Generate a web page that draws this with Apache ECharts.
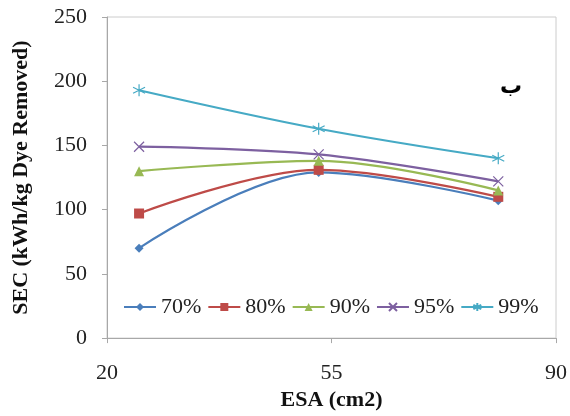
<!DOCTYPE html>
<html>
<head>
<meta charset="utf-8">
<script src="https://cdn.jsdelivr.net/npm/echarts@6/dist/echarts.min.js"></script>
<style>
  html, body { margin: 0; padding: 0; background: #fff; }
  #chart { width: 570px; height: 416px; }
</style>
</head>
<body>
<div id="chart"></div>
<script>
// Electrode surface area (cm2) at which SEC was measured
const esa = [25, 53, 81];
// Removal-efficiency groups
const seriesNames = ['70%', '80%', '90%', '95%', '99%'];
// SEC (kWh/kg dye removed) per group
const sec70 = [70, 129, 107];
const sec80 = [97, 131, 110];
const sec90 = [130, 138, 115];
const sec95 = [149, 143, 122];
const sec99 = [193, 163, 140];
// Axis ticks
const xTicks = [20, 55, 90];
const yTicks = [0, 50, 100, 150, 200, 250];

const colors = ['#4a7ebb', '#be4b48', '#98b954', '#7d60a0', '#46aac5'];
const symbols = [
  'diamond',
  'rect',
  'triangle',
  'path://M-10,-10L10,10M-10,10L10,-10',
  'path://M0,-10L0,10M-8.66,-5L8.66,5M-8.66,5L8.66,-5'
];
const symbolSizes = [9, 10, 10, 10, 12];
const values = [sec70, sec80, sec90, sec95, sec99];
const serif = '"Liberation Serif", "Times New Roman", serif';

const series = seriesNames.map((name, i) => ({
  name,
  type: 'line',
  smooth: 0.35,
  data: esa.map((x, j) => [x, values[i][j]]),
  symbol: symbols[i],
  symbolSize: symbolSizes[i],
  showSymbol: true,
  lineStyle: { color: colors[i], width: 2.2 },
  itemStyle: {
    color: colors[i],
    borderColor: colors[i],
    borderWidth: i >= 3 ? 1.2 : 0
  },
  z: 2 + i
}));

const chart = echarts.init(document.getElementById('chart'), null, { renderer: 'canvas' });
chart.setOption({
  animation: false,
  backgroundColor: '#fff',
  grid: {
    left: 107, right: 13, top: 17, bottom: 74,
    show: true, borderColor: '#cccccc', borderWidth: 1
  },
  legend: {
    data: seriesNames,
    left: 118,
    top: 291,
    itemWidth: 32,
    itemHeight: 10,
    itemGap: 6,
    textStyle: { fontFamily: serif, fontSize: 22, color: '#222' }
  },
  graphic: [{
    type: 'text',
    left: 500,
    top: 76,
    style: { text: 'ب', font: 'bold 22px "DejaVu Sans", sans-serif', fill: '#000' }
  }],
  xAxis: {
    type: 'value',
    min: xTicks[0],
    max: xTicks[xTicks.length - 1],
    interval: xTicks[1] - xTicks[0],
    name: 'ESA (cm2)',
    nameLocation: 'middle',
    nameGap: 48,
    nameTextStyle: { fontFamily: serif, fontSize: 22, fontWeight: 'bold', color: '#111' },
    axisLine: { lineStyle: { color: '#a8a8a8', width: 1 } },
    axisTick: { show: true, length: 5, lineStyle: { color: '#a8a8a8' } },
    axisLabel: { fontFamily: serif, fontSize: 22, color: '#222', margin: 24 },
    splitLine: { show: false }
  },
  yAxis: {
    type: 'value',
    min: yTicks[0],
    max: yTicks[yTicks.length - 1],
    interval: yTicks[1] - yTicks[0],
    name: 'SEC (kWh/kg Dye Removed)',
    nameLocation: 'middle',
    nameRotate: 90,
    nameGap: 75,
    nameTextStyle: { fontFamily: serif, fontSize: 22, fontWeight: 'bold', color: '#111' },
    axisLine: { show: true, lineStyle: { color: '#a8a8a8', width: 1 } },
    axisTick: { show: true, length: 5, lineStyle: { color: '#a8a8a8' } },
    axisLabel: { fontFamily: serif, fontSize: 22, color: '#222', margin: 20 },
    splitLine: { show: false }
  },
  series
});
</script>
</body>
</html>
